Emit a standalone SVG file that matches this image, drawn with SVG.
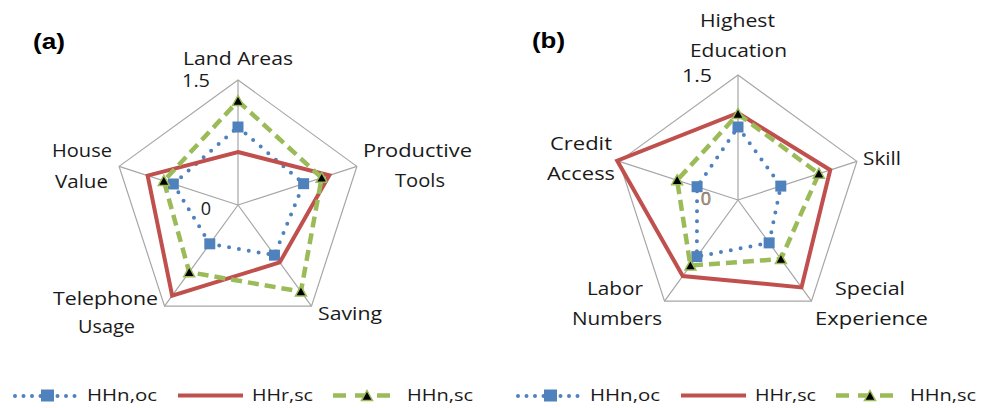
<svg xmlns="http://www.w3.org/2000/svg" xmlns:xlink="http://www.w3.org/1999/xlink" width="991" height="408" viewBox="0 0 991 408">
<defs>
<style>
.grid{fill:none;stroke:#a6a6a6;stroke-width:1.2}
.blue{fill:none;stroke:#4f81bd;stroke-width:4;stroke-linecap:round;stroke-dasharray:0 10}
.red{fill:none;stroke:#c0504d;stroke-width:4;stroke-linejoin:miter}
.green{fill:none;stroke:#9bbb59;stroke-width:4.5;stroke-dasharray:11 6}
.lbl{font-family:"Open Sans","Noto Sans",sans-serif;font-size:18px;fill:#1a1a1a;text-anchor:middle}
.leg{font-family:"Open Sans","Noto Sans",sans-serif;font-size:17px;fill:#1a1a1a}
.ttl{font-family:"Liberation Sans",Arial,sans-serif;font-size:22px;font-weight:bold;fill:#000}
</style>
<rect id="sq" x="-5.5" y="-5.5" width="11" height="11" fill="#4f81bd"/>
<path id="tri" d="M0,-5.5 L5.5,4.5 L-5.5,4.5Z" fill="#000" stroke="#9bbb59" stroke-width="1.5"/>
</defs>
<rect width="991" height="408" fill="#fff"/>

<!-- Chart (a) -->
<g id="chart-a">
<text class="ttl" x="33" y="49" textLength="32" lengthAdjust="spacingAndGlyphs">(a)</text>
<g id="grid-a">
<polygon class="grid" points="238,80 356.88,166.37 311.47,306.13 164.53,306.13 119.12,166.37"/>
<path class="grid" d="M238,205 L238,80 M238,205 L356.88,166.37 M238,205 L311.47,306.13 M238,205 L164.53,306.13 M238,205 L119.12,166.37"/>
</g>
<g id="series-a">
<polygon class="blue" points="238,127 303.62,183.68 274.44,255.16 209.79,243.83 173.33,183.99"/>
<use href="#sq" x="238" y="127"/><use href="#sq" x="303.62" y="183.68"/><use href="#sq" x="274.44" y="255.16"/><use href="#sq" x="209.79" y="243.83"/><use href="#sq" x="173.33" y="183.99"/>
<polygon class="red" points="238,152 329.3,175.33 279.73,262.44 172.17,295.61 147.65,175.64"/>
<polygon class="green" points="238,101 321.69,177.81 300.89,291.57 189.21,272.15 163.82,180.9"/>
<use href="#tri" x="238" y="101"/><use href="#tri" x="321.69" y="177.81"/><use href="#tri" x="300.89" y="291.57"/><use href="#tri" x="189.21" y="272.15"/><use href="#tri" x="163.82" y="180.9"/>
</g>
<g id="labels-a">
<text class="lbl" x="238" y="65" textLength="110" lengthAdjust="spacingAndGlyphs">Land Areas</text>
<text class="lbl" x="196" y="87" textLength="28" lengthAdjust="spacingAndGlyphs">1.5</text>
<text class="lbl" x="82" y="157" textLength="60" lengthAdjust="spacingAndGlyphs">House</text>
<text class="lbl" x="81.5" y="188" textLength="53" lengthAdjust="spacingAndGlyphs">Value</text>
<text class="lbl" x="417.5" y="157" textLength="109" lengthAdjust="spacingAndGlyphs">Productive</text>
<text class="lbl" x="420" y="187" textLength="50" lengthAdjust="spacingAndGlyphs">Tools</text>
<text class="lbl" x="206" y="215">0</text>
<text class="lbl" x="105.5" y="305" textLength="105" lengthAdjust="spacingAndGlyphs">Telephone</text>
<text class="lbl" x="106.5" y="333" textLength="57" lengthAdjust="spacingAndGlyphs">Usage</text>
<text class="lbl" x="350" y="320" textLength="64" lengthAdjust="spacingAndGlyphs">Saving</text>
</g>
<g id="legend-a">
<line class="blue" x1="15" y1="396" x2="75" y2="396" style="stroke-dasharray:0 8.5"/>
<rect x="41" y="389.5" width="13" height="12" fill="#4f81bd"/>
<text class="leg" x="87" y="401" textLength="70" lengthAdjust="spacingAndGlyphs">HHn,oc</text>
<line class="red" x1="178" y1="395.5" x2="243" y2="395.5"/>
<text class="leg" x="252" y="401" textLength="61" lengthAdjust="spacingAndGlyphs">HHr,sc</text>
<line class="green" x1="333" y1="395.5" x2="393" y2="395.5" style="stroke-dasharray:13 9"/>
<use href="#tri" x="367" y="396"/>
<text class="leg" x="407" y="401" textLength="66" lengthAdjust="spacingAndGlyphs">HHn,sc</text>
</g>
</g>

<!-- Chart (b) -->
<g id="chart-b">
<text class="ttl" x="532" y="48" textLength="33" lengthAdjust="spacingAndGlyphs">(b)</text>
<g id="grid-b">
<polygon class="grid" points="738,75 856.88,161.37 811.47,301.13 664.53,301.13 619.12,161.37"/>
<path class="grid" d="M738,200 L738,75 M738,200 L856.88,161.37 M738,200 L811.47,301.13 M738,200 L664.53,301.13 M738,200 L619.12,161.37"/>
</g>
<g id="series-b">
<polygon class="blue" points="738,127 780.8,186.09 769.15,242.88 696.85,256.63 697.1,186.71"/>
<use href="#sq" x="738" y="127"/><use href="#sq" x="780.8" y="186.09"/><use href="#sq" x="769.15" y="242.88"/><use href="#sq" x="696.85" y="256.63"/><use href="#sq" x="697.1" y="186.71"/>
<polygon class="red" points="738,113 830.25,170.03 801.48,287.37 682.75,276.05 617.22,160.75"/>
<polygon class="green" points="738,114 818.84,173.73 780.91,259.06 690.39,265.53 677.13,180.22"/>
<use href="#tri" x="738" y="114"/><use href="#tri" x="818.84" y="173.73"/><use href="#tri" x="780.91" y="259.06"/><use href="#tri" x="690.39" y="265.53"/><use href="#tri" x="677.13" y="180.22"/>
</g>
<g id="labels-b">
<text class="lbl" x="737.5" y="27" textLength="75" lengthAdjust="spacingAndGlyphs">Highest</text>
<text class="lbl" x="738.5" y="57" textLength="97" lengthAdjust="spacingAndGlyphs">Education</text>
<text class="lbl" x="697" y="82" textLength="30" lengthAdjust="spacingAndGlyphs">1.5</text>
<text class="lbl" x="581" y="150" textLength="62" lengthAdjust="spacingAndGlyphs">Credit</text>
<text class="lbl" x="581" y="180" textLength="68" lengthAdjust="spacingAndGlyphs">Access</text>
<text class="lbl" x="882" y="165" textLength="38" lengthAdjust="spacingAndGlyphs">Skill</text>
<text class="lbl" x="706" y="205" style="fill:#e0a040;stroke:#3b5a8a;stroke-width:0.5">0</text>
<text class="lbl" x="615" y="295" textLength="56" lengthAdjust="spacingAndGlyphs">Labor</text>
<text class="lbl" x="617" y="325" textLength="90" lengthAdjust="spacingAndGlyphs">Numbers</text>
<text class="lbl" x="870" y="295" textLength="70" lengthAdjust="spacingAndGlyphs">Special</text>
<text class="lbl" x="871.5" y="325" textLength="113" lengthAdjust="spacingAndGlyphs">Experience</text>
</g>
<g id="legend-b">
<line class="blue" x1="518" y1="396" x2="578" y2="396" style="stroke-dasharray:0 8.5"/>
<rect x="544" y="389.5" width="13" height="12" fill="#4f81bd"/>
<text class="leg" x="590" y="401" textLength="70" lengthAdjust="spacingAndGlyphs">HHn,oc</text>
<line class="red" x1="681" y1="395.5" x2="746" y2="395.5"/>
<text class="leg" x="755" y="401" textLength="61" lengthAdjust="spacingAndGlyphs">HHr,sc</text>
<line class="green" x1="836" y1="395.5" x2="896" y2="395.5" style="stroke-dasharray:13 9"/>
<use href="#tri" x="870" y="396"/>
<text class="leg" x="910" y="401" textLength="66" lengthAdjust="spacingAndGlyphs">HHn,sc</text>
</g>
</g>
</svg>
